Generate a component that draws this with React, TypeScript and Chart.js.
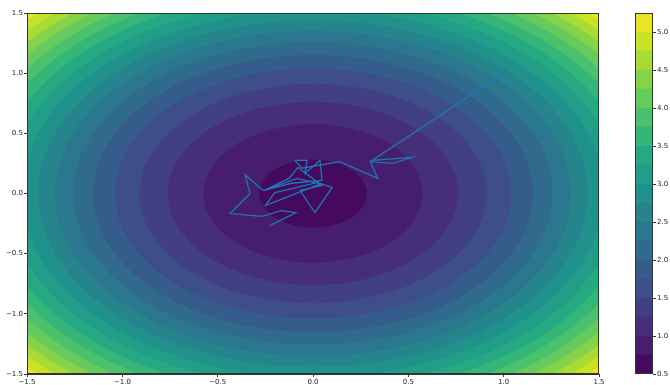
import { useEffect, useRef } from "react";
import { Chart, registerables } from "chart.js";

Chart.register(...registerables);

// Axis tick values shared by both axes of the main plot
const axisTicks = [-1.5, -1.0, -0.5, 0.0, 0.5, 1.0, 1.5];

// Filled contour levels of the surface and the colorbar tick values
const contourLevels = [
  0.5, 0.75, 1.0, 1.25, 1.5, 1.75, 2.0, 2.25, 2.5, 2.75, 3.0, 3.25, 3.5,
  3.75, 4.0, 4.25, 4.5, 4.75, 5.0, 5.25,
];
const colorbarTicks = [0.5, 1.0, 1.5, 2.0, 2.5, 3.0, 3.5, 4.0, 4.5, 5.0];

// Surface: f(x, y) = x^2 + y^2 + surfaceOffset
const surfaceOffset = 0.67;

// Optimiser trajectory
const pathX = [
  1.0, 0.31, 0.52, 0.42, 0.3, 0.34, 0.14, -0.058, -0.094, -0.031, -0.042,
  0.037, 0.047, -0.12, -0.257, -0.126, -0.079, 0.047, -0.068, 0.01, 0.1,
  0.026, -0.2, -0.25, 0.04, -0.084, -0.262, -0.357, -0.33, -0.435, -0.267,
  -0.168, -0.089, -0.226,
];
const pathY = [
  1.0, 0.275, 0.3, 0.25, 0.265, 0.125, 0.265, 0.21, 0.275, 0.275, 0.167,
  0.275, 0.108, 0.083, 0.025, 0.125, 0.217, 0.067, 0.025, -0.158, 0.05,
  0.092, 0.008, -0.1, 0.08, 0.125, 0.025, 0.158, 0.0, -0.167, -0.19,
  -0.142, -0.158, -0.267,
];

// viridis colormap anchors (t = 0, 0.1, ..., 1)
const viridisAnchors = [
  "#440154", "#482475", "#414487", "#355f8d", "#2a788e", "#21918c",
  "#22a884", "#44bf70", "#7ad151", "#bddf26", "#fde725",
];

function hexToRgb(h: string) {
  return [
    parseInt(h.slice(1, 3), 16),
    parseInt(h.slice(3, 5), 16),
    parseInt(h.slice(5, 7), 16),
  ];
}

function viridis(t: number) {
  const c = Math.min(1, Math.max(0, t)) * (viridisAnchors.length - 1);
  const i = Math.min(viridisAnchors.length - 2, Math.floor(c));
  const f = c - i;
  const a = hexToRgb(viridisAnchors[i]);
  const b = hexToRgb(viridisAnchors[i + 1]);
  const m = a.map((v, k) => Math.round(v + (b[k] - v) * f));
  return `rgb(${m[0]},${m[1]},${m[2]})`;
}

const vmin = contourLevels[0];
const vmax = contourLevels[contourLevels.length - 1];
const bandColors = contourLevels.slice(0, -1).map((lo, i) => {
  const mid = (lo + contourLevels[i + 1]) / 2;
  return viridis((mid - vmin) / (vmax - vmin));
});

const tickFont = { family: "DejaVu Sans", size: 7 };
const fmt = (v: number) => v.toFixed(1).replace("-", "\u2212");

// Draws filled contour bands of the surface beneath the trajectory
const contourPlugin = {
  id: "contourBands",
  beforeDatasetsDraw(chart: any) {
    const { ctx, chartArea, scales } = chart;
    const xs = scales.x;
    const ys = scales.y;
    const cx = xs.getPixelForValue(0);
    const cy = ys.getPixelForValue(0);
    ctx.save();
    ctx.beginPath();
    ctx.rect(chartArea.left, chartArea.top, chartArea.right - chartArea.left, chartArea.bottom - chartArea.top);
    ctx.clip();
    ctx.fillStyle = bandColors[bandColors.length - 1];
    ctx.fillRect(chartArea.left, chartArea.top, chartArea.right - chartArea.left, chartArea.bottom - chartArea.top);
    for (let k = contourLevels.length - 2; k >= 1; k--) {
      const level = contourLevels[k];
      const r = Math.sqrt(Math.max(0, level - surfaceOffset));
      const rx = Math.abs(xs.getPixelForValue(r) - cx);
      const ry = Math.abs(ys.getPixelForValue(r) - cy);
      ctx.beginPath();
      ctx.ellipse(cx, cy, rx, ry, 0, 0, Math.PI * 2);
      ctx.fillStyle = bandColors[k - 1];
      ctx.fill();
    }
    ctx.restore();
  },
  afterDraw(chart: any) {
    const { ctx, chartArea } = chart;
    ctx.save();
    ctx.strokeStyle = "#333";
    ctx.lineWidth = 1;
    ctx.strokeRect(chartArea.left + 0.5, chartArea.top + 0.5, chartArea.right - chartArea.left - 1, chartArea.bottom - chartArea.top - 1);
    ctx.restore();
  },
};

const outlinePlugin = {
  id: "cbOutline",
  afterDraw(chart: any) {
    const { ctx, chartArea } = chart;
    ctx.save();
    ctx.strokeStyle = "#333";
    ctx.lineWidth = 1;
    ctx.strokeRect(chartArea.left + 0.5, chartArea.top + 0.5, chartArea.right - chartArea.left - 1, chartArea.bottom - chartArea.top - 1);
    ctx.restore();
  },
};

export default function App() {
  const mainRef = useRef<HTMLCanvasElement>(null);
  const cbRef = useRef<HTMLCanvasElement>(null);

  useEffect(() => {
    const axisCommon = (pos: string, fitSize: number) => ({
      type: "linear" as const,
      position: pos,
      min: -1.5,
      max: 1.5,
      afterBuildTicks: (s: any) => {
        s.ticks = axisTicks.map((v) => ({ value: v }));
      },
      afterFit: (s: any) => {
        if (pos === "left") s.width = fitSize;
        else s.height = fitSize;
      },
      ticks: {
        font: tickFont,
        color: "#222",
        padding: 1,
        autoSkip: false,
        maxRotation: 0,
        callback: (v: any) => fmt(Number(v)),
      },
      grid: {
        display: true,
        drawOnChartArea: false,
        drawTicks: true,
        tickLength: 3,
        tickColor: "#333",
      },
      border: { display: true, color: "#333", width: 1 },
    });

    const main = new Chart(mainRef.current!, {
      type: "scatter",
      data: {
        datasets: [
          {
            data: pathX.map((x, i) => ({ x, y: pathY[i] })),
            showLine: true,
            borderColor: "#1f77b4",
            borderWidth: 1.3,
            pointRadius: 0,
            tension: 0,
          },
        ],
      },
      options: {
        responsive: false,
        animation: false,
        devicePixelRatio: 1,
        layout: { padding: { left: 0, top: 13, right: 71, bottom: 0 } },
        plugins: { legend: { display: false }, tooltip: { enabled: false } },
        scales: {
          x: axisCommon("bottom", 11) as any,
          y: axisCommon("left", 27) as any,
        },
      },
      plugins: [contourPlugin],
    });

    const cb = new Chart(cbRef.current!, {
      type: "bar",
      data: {
        labels: [""],
        datasets: bandColors.map((color, i) => ({
          data: [[contourLevels[i], contourLevels[i + 1]]] as any,
          backgroundColor: color,
          borderWidth: 0,
          barPercentage: 1,
          categoryPercentage: 1,
        })),
      },
      options: {
        responsive: false,
        animation: false,
        devicePixelRatio: 1,
        layout: { padding: { left: 15, top: 13, right: 0, bottom: 11 } },
        plugins: { legend: { display: false }, tooltip: { enabled: false } },
        scales: {
          x: { display: false, stacked: true },
          y: {
            type: "linear",
            position: "right",
            stacked: false,
            min: vmin,
            max: vmax,
            afterBuildTicks: (s: any) => {
              s.ticks = colorbarTicks.map((v) => ({ value: v }));
            },
            afterFit: (s: any) => {
              s.width = 17;
            },
            ticks: {
              font: tickFont,
              color: "#222",
              padding: 1,
              callback: (v: any) => fmt(Number(v)),
            },
            grid: {
              display: true,
              drawOnChartArea: false,
              drawTicks: true,
              tickLength: 3,
              tickColor: "#333",
            },
            border: { display: false },
          },
        },
      },
      plugins: [outlinePlugin],
    });

    return () => {
      main.destroy();
      cb.destroy();
    };
  }, []);

  return (
    <div style={{ position: "fixed", left: 0, top: 0, width: 670, height: 385, background: "#fff" }}>
      <canvas ref={mainRef} width={670} height={385} style={{ position: "absolute", left: 0, top: 0, width: 670, height: 385 }} />
      <canvas ref={cbRef} width={50} height={385} style={{ position: "absolute", left: 620, top: 0, width: 50, height: 385 }} />
    </div>
  );
}
